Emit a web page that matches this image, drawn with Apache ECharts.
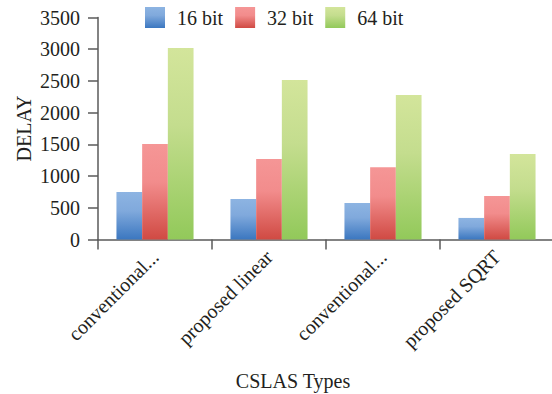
<!DOCTYPE html>
<html>
<head>
<meta charset="utf-8">
<script src="https://cdn.jsdelivr.net/npm/echarts@6/dist/echarts.min.js"></script>
<style>
  html, body { margin: 0; padding: 0; background: #fff; }
  #chart { width: 552px; height: 394px; }
</style>
</head>
<body>
<div id="chart"></div>
<script>
// CSLAS delay by adder type and word length
const categories = ['conventional linear', 'proposed linear', 'conventional SQRT', 'proposed SQRT'];
const seriesNames = ['16 bit', '32 bit', '64 bit'];
const delay16 = [750, 640, 575, 340];
const delay32 = [1505, 1270, 1140, 685];
const delay64 = [3020, 2515, 2280, 1348];
const yTicks = [0, 500, 1000, 1500, 2000, 2500, 3000, 3500];

const FONT = '"Liberation Serif", "DejaVu Serif", serif';
const TEXT = '#231f20';
const AXIS = '#5a5a5a';

function grad(top, mid, bottom) {
  return new echarts.graphic.LinearGradient(0, 0, 0, 1, [
    { offset: 0, color: top },
    { offset: 0.4, color: mid },
    { offset: 1, color: bottom }
  ]);
}
const fills = [
  grad('#8db4e2', '#80a9dc', '#3b77c0'),
  grad('#f59696', '#f28c8c', '#d04a43'),
  grad('#d3e59b', '#c4dd8e', '#92c95a')
];
const values = [delay16, delay32, delay64];

const chart = echarts.init(document.getElementById('chart'), null, { renderer: 'svg' });
chart.setOption({
  animation: false,
  backgroundColor: '#fff',
  textStyle: { fontFamily: FONT, color: TEXT },
  legend: {
    left: 145, top: 7, padding: 0,
    itemWidth: 20, itemHeight: 21, itemGap: 12,
    icon: 'rect',
    textStyle: { fontFamily: FONT, fontSize: 20, color: TEXT, padding: [0, 0, 0, 7] },
    data: seriesNames
  },
  grid: { left: 98, top: 17.5, width: 456, height: 222, containLabel: false, outerBoundsMode: 'none' },
  xAxis: {
    type: 'category',
    data: categories,
    name: 'CSLAS Types',
    nameLocation: 'middle',
    nameGap: 131,
    nameTextStyle: { fontFamily: FONT, fontSize: 20, color: TEXT, padding: [0, 66, 0, 0] },
    axisLine: { lineStyle: { color: AXIS, width: 1.5 } },
    axisTick: { show: true, length: 10, alignWithLabel: false, lineStyle: { color: AXIS, width: 1.5 } },
    axisLabel: {
      rotate: 45, margin: 14, fontFamily: FONT, fontSize: 20, color: TEXT, interval: 0,
      formatter: v => v.startsWith('conventional') ? 'conventional...' : v
    }
  },
  yAxis: {
    type: 'value',
    min: 0, max: 3500, interval: 500,
    name: 'DELAY',
    nameLocation: 'middle',
    nameGap: 64,
    nameMoveOverlap: false,
    nameTextStyle: { fontFamily: FONT, fontSize: 20, color: TEXT },
    axisLine: { show: true, lineStyle: { color: AXIS, width: 1.5 } },
    axisTick: { show: true, length: 10, lineStyle: { color: AXIS, width: 1.5 } },
    splitLine: { show: false },
    axisLabel: {
      margin: 18, fontFamily: FONT, fontSize: 20, color: TEXT,
      formatter: v => yTicks.includes(v) ? String(v) : ''
    }
  },
  series: seriesNames.map((name, i) => ({
    name,
    type: 'bar',
    data: values[i],
    barWidth: 25.7,
    barGap: '0%',
    itemStyle: { color: fills[i] }
  }))
});
</script>
</body>
</html>
